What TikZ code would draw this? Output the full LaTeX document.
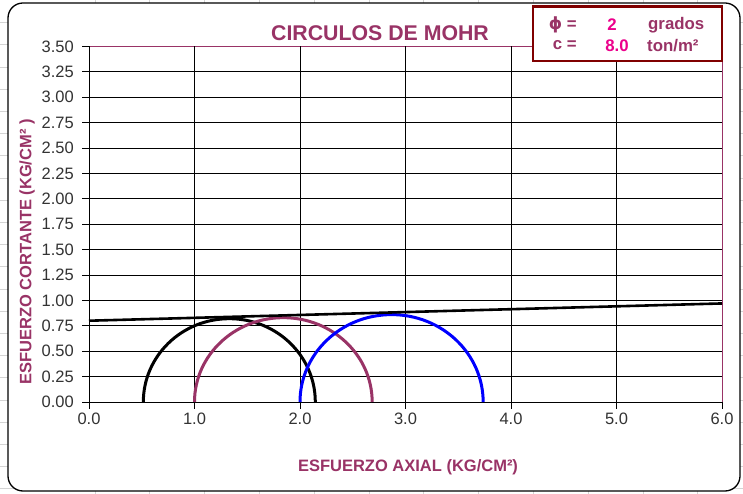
\documentclass[tikz,border=0pt]{standalone}
\usepackage{fontspec}
\setmainfont{Liberation Sans}
\newfontfamily\dejavu{DejaVu Sans}
\definecolor{plum}{HTML}{993366}
\definecolor{darkmaroon}{HTML}{800000}
\definecolor{sheetgrid}{HTML}{D4D4D4}
\definecolor{ticktext}{HTML}{333333}
\tikzset{
  sheetline/.style={draw=sheetgrid, line width=0.8pt},
  chartframe/.style={draw=black, line width=1.3pt, fill=white, rounded corners=15pt},
  gridline/.style={draw=black, line width=0.9pt},
  plumline/.style={draw=plum, line width=0.9pt},
  ticklabel/.style={font=\fontsize{16.5}{18}\selectfont, text=ticktext, inner sep=0pt},
  titletext/.style={font=\fontsize{21.3}{24}\selectfont\bfseries, text=plum, inner sep=0pt},
  axistitle/.style={font=\fontsize{16.5}{18}\selectfont\bfseries, text=plum, inner sep=0pt},
  legendbox/.style={draw=darkmaroon, line width=2.5pt, fill=white},
  legendtext/.style={font=\fontsize{16.8}{19}\selectfont\bfseries, text=plum, inner sep=0pt},
  legendvalue/.style={font=\fontsize{16.8}{19}\selectfont\bfseries, text=magenta, inner sep=0pt},
  mohr/.style={line width=3pt},
  envelope/.style={draw=black, line width=2.6pt}
}
\begin{document}
\begin{tikzpicture}[x=1pt,y=1pt]
\useasboundingbox (0,0) rectangle (743,494);
% spreadsheet background grid
\foreach \k in {0,...,21} {
  \draw[sheetline] (0,{494-22.7-22.2*\k}) -- (743,{494-22.7-22.2*\k});
}
\foreach \k in {0,...,12} {
  \draw[sheetline] ({95+54.8*\k},0) -- ({95+54.8*\k},494);
}
% chart area
\path[chartframe] (8,3) rectangle (740,491);
% title
\node[titletext] (title) at (380,460.5) {CIRCULOS DE MOHR};
% plot
\begin{scope}[shift={(89,92)}, x=105.5pt, y=101.6pt]
  % horizontal grid lines
  \foreach \k in {1,...,13} {
    \draw[gridline] (0,{0.25*\k}) -- (6,{0.25*\k});
  }
  \draw[plumline] (0,3.5) -- (6,3.5);
  % vertical grid lines
  \foreach \k in {1,...,5} {
    \draw[gridline] (\k,0) -- (\k,3.5);
  }
  \draw[plumline] (6,0) -- (6,3.5);
  % axes
  \draw[gridline] (0,0) -- (0,3.5);
  \draw[gridline] (0,0) -- (6,0);
  % y ticks and labels
  \foreach \k/\lab in {0/0.00,1/0.25,2/0.50,3/0.75,4/1.00,5/1.25,6/1.50,7/1.75,8/2.00,9/2.25,10/2.50,11/2.75,12/3.00,13/3.25,14/3.50} {
    \draw[gridline] (0,{0.25*\k}) -- ++(-7pt,0);
    \node[ticklabel, anchor=east] (ylab\k) at ([xshift=-15pt]0,{0.25*\k}) {\lab};
  }
  % x ticks and labels
  \foreach \k in {0,...,6} {
    \draw[gridline] (\k,0) -- ++(0,-7pt);
    \node[ticklabel, anchor=north] (xlab\k) at ([yshift=-11pt]\k,0) {\k.0};
  }
  % Mohr circles
  \draw[mohr, draw=black] (0.515,0) arc[start angle=180, end angle=0, x radius=0.815, y radius=0.82];
  \draw[mohr, draw=plum] (1.0,0) arc[start angle=180, end angle=0, x radius=0.842, y radius=0.83];
  \draw[mohr, draw=blue] (2.0,0) arc[start angle=180, end angle=0, x radius=0.868, y radius=0.86];
  % failure envelope
  \coordinate (envA) at (0,0.80);
  \coordinate (envB) at (6,0.97);
  \draw[envelope] (envA) -- (envB);
\end{scope}
% axis titles
\node[axistitle] (xtitle) at (408,27) {ESFUERZO AXIAL (KG/CM²)};
\node[axistitle, rotate=90] (ytitle) at (27,242) {ESFUERZO CORTANTE (KG/CM² )};
% legend
\path[legendbox] (533,433) rectangle (722,487.3);
\node[legendtext, anchor=east] (phi) at (577,469) {{\dejavu\bfseries ϕ} =};
\node[legendtext, anchor=east] (cee) at (577,448.5) {c =};
\node[legendvalue] (phival) at (612,469) {2};
\node[legendvalue] (cval) at (617,448.5) {8.0};
\node[legendtext, anchor=west] (grados) at (648,469) {grados};
\node[legendtext, anchor=west] (tonm) at (647,448.5) {ton/m²};
\end{tikzpicture}
\end{document}
